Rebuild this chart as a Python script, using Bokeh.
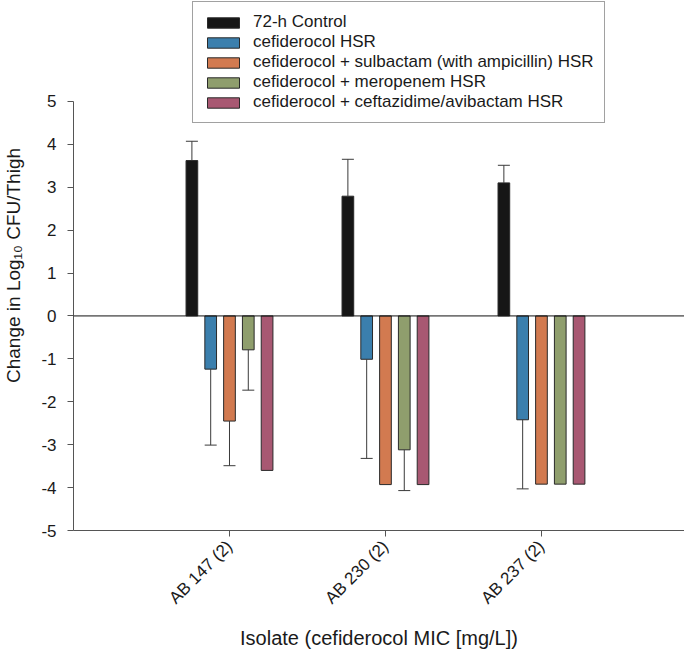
import math
from bokeh.plotting import figure
from bokeh.models import Range1d, FixedTicker, Span, Legend, LegendItem, ColumnDataSource
from bokeh.embed import file_html
from bokeh.resources import INLINE

# ---- data ----
isolates = ["AB 147 (2)", "AB 230 (2)", "AB 237 (2)"]
series = [
    "72-h Control",
    "cefiderocol HSR",
    "cefiderocol + sulbactam (with ampicillin) HSR",
    "cefiderocol + meropenem HSR",
    "cefiderocol + ceftazidime/avibactam HSR",
]
control_72h = [3.62, 2.79, 3.10]
control_72h_err = [0.45, 0.86, 0.41]
cefid = [-1.24, -1.01, -2.42]
cefid_err = [1.77, 2.31, 1.61]
cefid_sulb = [-2.45, -3.93, -3.92]
cefid_sulb_err = [1.04, 0.0, 0.0]
cefid_mero = [-0.79, -3.12, -3.92]
cefid_mero_err = [0.94, 0.95, 0.0]
cefid_cza = [-3.60, -3.93, -3.92]
cefid_cza_err = [0.0, 0.0, 0.0]
y_ticks = [-5, -4, -3, -2, -1, 0, 1, 2, 3, 4, 5]

values = [control_72h, cefid, cefid_sulb, cefid_mero, cefid_cza]
errors = [control_72h_err, cefid_err, cefid_sulb_err, cefid_mero_err, cefid_cza_err]
colors = ["#161616", "#3b7fad", "#d27a50", "#8f9e6d", "#a85872"]

FONT = "Liberation Sans"

p = figure(width=684, height=652, output_backend="svg", toolbar_location=None,
           x_range=Range1d(0, 3.917), y_range=Range1d(-5, 7.35),
           min_border_left=73, min_border_right=0, min_border_top=0, min_border_bottom=116)
p.outline_line_color = None
p.xgrid.visible = False
p.ygrid.visible = False
p.background_fill_color = "white"
p.border_fill_color = "white"

pitch = 0.1205
bw = 0.075
renderers = []
for i, (vals, errs, col) in enumerate(zip(values, errors, colors)):
    xs = [k + 1 + (i - 2) * pitch for k in range(len(isolates))]
    src = ColumnDataSource(dict(x=xs, top=vals))
    r = p.vbar(x="x", top="top", bottom=0, width=bw, source=src,
               fill_color=col, line_color="#2a2a2a", line_width=1)
    renderers.append(r)
    ex, y0, y1 = [], [], []
    for x, v, e in zip(xs, vals, errs):
        if e > 0:
            ex.append(x)
            y0.append(v)
            y1.append(v + (e if v >= 0 else -e))
    if ex:
        p.segment(x0=ex, x1=ex, y0=y0, y1=y1, line_color="#3a3a3a", line_width=1)
        p.scatter(x=ex, y=y1, marker="dash", size=12, line_color="#3a3a3a", line_width=1)

p.add_layout(Span(location=0, dimension="width", line_color="#111111", line_width=1))

# axes
p.yaxis.ticker = FixedTicker(ticks=y_ticks)
p.yaxis.major_label_overrides = {t: str(t) for t in y_ticks}
p.yaxis.bounds = (-5, 5)
p.yaxis.minor_tick_line_color = None
p.yaxis.major_tick_out = 6
p.yaxis.major_tick_in = 0
p.yaxis.major_label_standoff = 11
p.yaxis.axis_label = "Change in Log\u2081\u2080 CFU/Thigh"
p.yaxis.axis_label_standoff = 14

p.xaxis.ticker = FixedTicker(ticks=[1, 2, 3])
p.xaxis.major_label_overrides = {k + 1: name for k, name in enumerate(isolates)}
p.xaxis.minor_tick_line_color = None
p.xaxis.major_tick_out = 6
p.xaxis.major_tick_in = 0
p.xaxis.major_label_orientation = math.pi / 4
p.xaxis.major_label_standoff = 7
p.xaxis.axis_label = "Isolate (cefiderocol MIC [mg/L])"
p.xaxis.axis_label_standoff = 10

for ax in (p.xaxis[0], p.yaxis[0]):
    ax.axis_line_color = "#555555"
    ax.major_tick_line_color = "#555555"
    ax.major_label_text_font = FONT
    ax.major_label_text_font_size = "17px"
    ax.major_label_text_color = "#1a1a1a"
    ax.axis_label_text_font = FONT
    ax.axis_label_text_font_size = "20px"
    ax.axis_label_text_font_style = "normal"
    ax.axis_label_text_color = "#1a1a1a"
p.yaxis.axis_label_text_font_size = "19px"

legend = Legend(items=[LegendItem(label=s, renderers=[r]) for s, r in zip(series, renderers)],
                location=(119, 407))
legend.label_text_font = FONT
legend.label_text_font_size = "17px"
legend.label_text_color = "#1a1a1a"
legend.glyph_width = 40
legend.glyph_height = 13
legend.label_height = 17
legend.spacing = 0
legend.padding = 10
legend.margin = 0
legend.label_standoff = 10
legend.border_line_color = "#444444"
legend.border_line_width = 1
legend.background_fill_color = "white"
legend.background_fill_alpha = 1
p.add_layout(legend, "center")

open("out.html", "w").write(file_html(p, INLINE))
